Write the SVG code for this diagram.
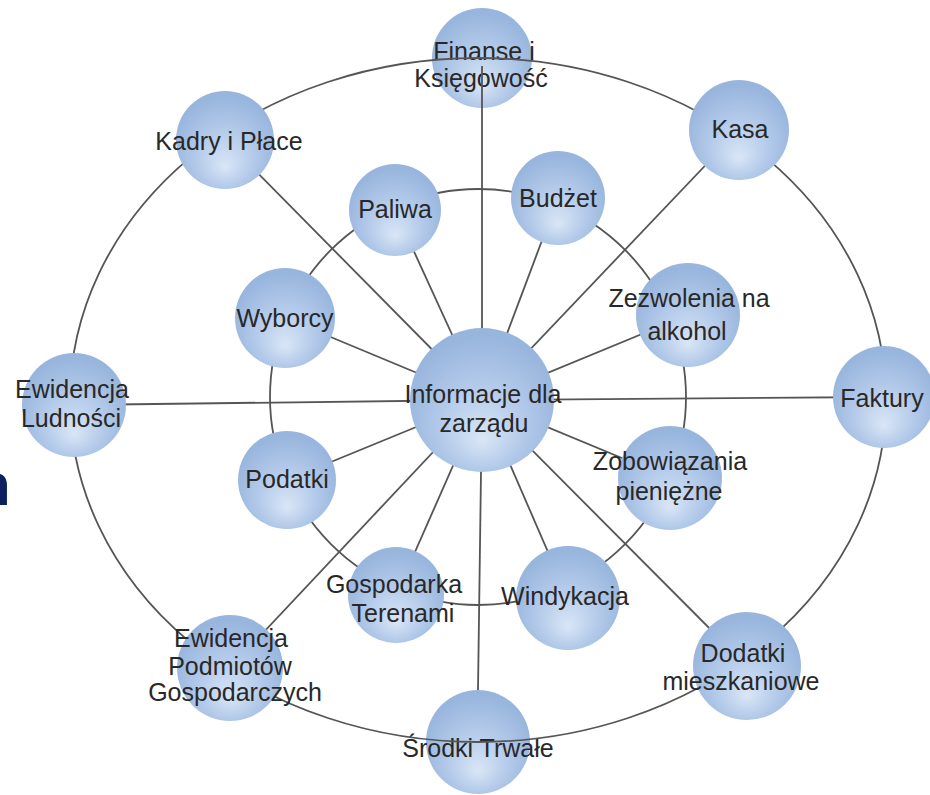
<svg xmlns="http://www.w3.org/2000/svg" width="930" height="795" viewBox="0 0 930 795">
<defs>
<radialGradient id="ball" cx="50%" cy="60%" r="55%" fx="50%" fy="78%">
<stop offset="0%" stop-color="#d9e6f6"/>
<stop offset="55%" stop-color="#b2c9e9"/>
<stop offset="100%" stop-color="#98b5dd"/>
</radialGradient>
<style>
.n{fill:url(#ball);}
.t{font-family:"Liberation Sans",Arial,sans-serif;font-size:25px;fill:#282828;text-anchor:middle;}
.c{fill:none;stroke:#555;stroke-width:1.8;}
</style>
</defs>
<rect width="930" height="795" fill="#fff"/>
<text x="-26" y="505" font-family="Liberation Sans,Arial,sans-serif" font-weight="bold" font-size="60" fill="#0d2060">n</text>

<g id="node-finanse"><circle class="n" cx="482" cy="58" r="50"/><text class="t" x="484" y="60">Finanse i</text><text class="t" x="481" y="87">Księgowość</text></g>
<g id="node-srodki"><circle class="n" cx="478" cy="742" r="52"/><text class="t" x="478" y="757">Środki Trwałe</text></g>

<g id="connectors">
<ellipse class="c" cx="478" cy="400" rx="408" ry="342"/>
<circle class="c" cx="478" cy="397" r="208"/>
<line class="c" x1="482" y1="400" x2="482" y2="66"/>
<line class="c" x1="482" y1="400" x2="478" y2="690"/>
<line class="c" x1="482" y1="400" x2="739" y2="130"/>
<line class="c" x1="482" y1="400" x2="883" y2="397"/>
<line class="c" x1="482" y1="400" x2="747" y2="666"/>
<line class="c" x1="482" y1="400" x2="230" y2="668"/>
<line class="c" x1="482" y1="400" x2="74" y2="405"/>
<line class="c" x1="482" y1="400" x2="225" y2="140"/>
<line class="c" x1="482" y1="400" x2="395" y2="210"/>
<line class="c" x1="482" y1="400" x2="558" y2="198"/>
<line class="c" x1="482" y1="400" x2="688" y2="315"/>
<line class="c" x1="482" y1="400" x2="670" y2="478"/>
<line class="c" x1="482" y1="400" x2="568" y2="598"/>
<line class="c" x1="482" y1="400" x2="396" y2="595"/>
<line class="c" x1="482" y1="400" x2="287" y2="480"/>
<line class="c" x1="482" y1="400" x2="285" y2="318"/>
</g>

<g id="node-kasa"><circle class="n" cx="739" cy="130" r="50"/><text class="t" x="740" y="138">Kasa</text></g>
<g id="node-faktury"><circle class="n" cx="884" cy="397" r="51"/><text class="t" x="882" y="407">Faktury</text></g>
<g id="node-dodatki"><circle class="n" cx="747" cy="666" r="54"/><text class="t" x="743" y="662">Dodatki</text><text class="t" x="741" y="690">mieszkaniowe</text></g>
<g id="node-ewpodm"><circle class="n" cx="230" cy="668" r="53"/><text class="t" x="231" y="647">Ewidencja</text><text class="t" x="230" y="675">Podmiotów</text><text class="t" x="235" y="701">Gospodarczych</text></g>
<g id="node-ewlud"><circle class="n" cx="74" cy="405" r="52"/><text class="t" x="72" y="398">Ewidencja</text><text class="t" x="71" y="427">Ludności</text></g>
<g id="node-kadry"><circle class="n" cx="225" cy="140" r="49"/><text class="t" x="229" y="150">Kadry i Płace</text></g>
<g id="node-paliwa"><circle class="n" cx="395" cy="210" r="46"/><text class="t" x="395" y="218">Paliwa</text></g>
<g id="node-budzet"><circle class="n" cx="558" cy="198" r="47"/><text class="t" x="558" y="207">Budżet</text></g>
<g id="node-zezwolenia"><circle class="n" cx="688" cy="315" r="52"/><text class="t" x="689" y="307">Zezwolenia na</text><text class="t" x="687" y="340">alkohol</text></g>
<g id="node-zobowiazania"><circle class="n" cx="670" cy="478" r="52"/><text class="t" x="670" y="470">Zobowiązania</text><text class="t" x="669" y="500">pieniężne</text></g>
<g id="node-windykacja"><circle class="n" cx="568" cy="598" r="52"/><text class="t" x="565" y="605">Windykacja</text></g>
<g id="node-gospodarka"><circle class="n" cx="396" cy="595" r="48"/><text class="t" x="394" y="593">Gospodarka</text><text class="t" x="403" y="622">Terenami</text></g>
<g id="node-podatki"><circle class="n" cx="287" cy="480" r="49"/><text class="t" x="287" y="488">Podatki</text></g>
<g id="node-wyborcy"><circle class="n" cx="285" cy="318" r="50"/><text class="t" x="285" y="327">Wyborcy</text></g>
<g id="node-center"><circle class="n" cx="482" cy="400" r="72"/><text class="t" x="483" y="403">Informacje dla</text><text class="t" x="484" y="432">zarządu</text></g>
</svg>
